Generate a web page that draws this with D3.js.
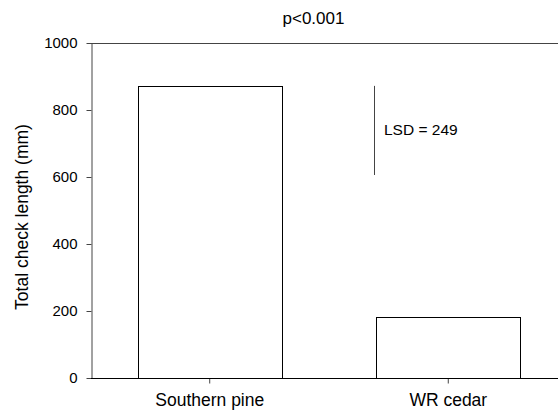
<!DOCTYPE html>
<html lang="en">
<head>
    <meta charset="UTF-8">
    <title>Total check length</title>
    <script src="https://d3js.org/d3.v7.min.js"></script>
    <style>
        body {
            margin: 0;
            padding: 0;
            background-color: #fff;
        }
        svg {
            display: block;
            font-family: "Liberation Sans", Arial, sans-serif;
        }
    </style>
</head>
<body>
    <svg id="chart"></svg>

    <script>
        // data
        const species = ["Southern pine", "WR cedar"];
        const checkLength = [872, 182];
        const yTicks = [0, 200, 400, 600, 800, 1000];
        const lsdValue = 249;
        const lsdRange = [606, 872];   // vertical bar drawn in the plot
        const titleText = "p<0.001";

        const width = 559, height = 415;
        const plotLeft = 91, plotRight = 558, plotTop = 43, plotBottom = 378;
        const axisColor = "#444";

        const svg = d3.select("#chart")
            .attr("width", width)
            .attr("height", height);

        const x = d3.scaleBand()
            .domain(species)
            .range([100, plotRight])
            .paddingInner(0.396)
            .paddingOuter(0.158);

        const y = d3.scaleLinear()
            .domain([0, 1000])
            .range([plotBottom, plotTop]);

        // bars
        svg.append("g")
            .selectAll("rect")
            .data(species)
            .enter()
            .append("rect")
            .attr("x", d => Math.round(x(d)) + 0.5)
            .attr("y", (d, i) => Math.round(y(checkLength[i])) + 0.5)
            .attr("width", Math.round(x.bandwidth()))
            .attr("height", (d, i) => Math.round(plotBottom - y(checkLength[i])))
            .attr("fill", "#fff")
            .attr("stroke", "#000")
            .attr("stroke-width", 1);

        // y axis
        const yAxis = svg.append("g")
            .attr("transform", `translate(${plotLeft + 0.5},0)`)
            .call(d3.axisLeft(y).tickValues(yTicks).tickFormat(d3.format("d"))
                .tickSize(5).tickPadding(9).tickSizeOuter(0));
        yAxis.select(".domain").attr("stroke", axisColor);
        yAxis.selectAll(".tick line").attr("stroke", axisColor);
        yAxis.selectAll(".tick text")
            .attr("fill", "#000")
            .style("font-size", "15px")
            .style("font-family", "'Liberation Sans', Arial, sans-serif");

        // x axis
        const xAxis = svg.append("g")
            .attr("transform", `translate(0,${plotBottom + 0.5})`)
            .call(d3.axisBottom(x).tickSize(5).tickPadding(10).tickSizeOuter(0));
        xAxis.select(".domain").remove();
        xAxis.selectAll(".tick line").attr("stroke", axisColor);
        xAxis.selectAll(".tick text")
            .attr("fill", "#000")
            .style("font-size", "17.5px")
            .style("font-family", "'Liberation Sans', Arial, sans-serif");

        svg.append("line")
            .attr("x1", plotLeft).attr("x2", plotRight)
            .attr("y1", plotBottom + 0.5).attr("y2", plotBottom + 0.5)
            .attr("stroke", "#000");

        // top frame line
        svg.append("line")
            .attr("x1", plotLeft).attr("x2", plotRight)
            .attr("y1", plotTop + 0.5).attr("y2", plotTop + 0.5)
            .attr("stroke", axisColor);

        // LSD bar
        svg.append("line")
            .attr("x1", 374.5).attr("x2", 374.5)
            .attr("y1", y(lsdRange[1])).attr("y2", y(lsdRange[0]))
            .attr("stroke", axisColor);

        svg.append("text")
            .attr("x", 384)
            .attr("y", 135)
            .style("font-size", "15.5px")
            .text("LSD = " + lsdValue);

        // title
        svg.append("text")
            .attr("x", 313.5)
            .attr("y", 24)
            .attr("text-anchor", "middle")
            .style("font-size", "17px")
            .text(titleText);

        // y label
        svg.append("text")
            .attr("transform", "translate(28,217) rotate(-90)")
            .attr("text-anchor", "middle")
            .style("font-size", "17.5px")
            .text("Total check length (mm)");
    </script>
</body>
</html>
